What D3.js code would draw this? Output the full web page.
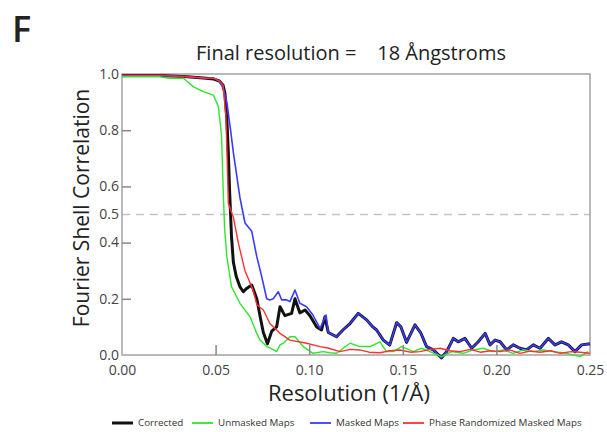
<!DOCTYPE html>
<html>
<head>
<meta charset="utf-8">
<script src="https://cdn.jsdelivr.net/npm/d3@7"></script>
<style>
  body { margin: 0; background: #fff; }
  text { font-family: "Open Sans", "Noto Sans", sans-serif; }
</style>
</head>
<body>
<svg id="chart" width="607" height="432"></svg>
<script>
// FSC curves: [resolution (1/A), correlation]
var corrected = [
  [0.000,0.995],[0.020,0.995],[0.035,0.990],[0.045,0.985],[0.049,0.982],[0.052,0.975],
  [0.054,0.960],[0.055,0.930],[0.056,0.840],[0.0568,0.720],[0.0575,0.580],[0.058,0.500],
  [0.0585,0.420],[0.0595,0.330],[0.061,0.280],[0.063,0.243],[0.0648,0.225],[0.0666,0.237],
  [0.0693,0.249],[0.072,0.200],[0.074,0.130],[0.0755,0.080],[0.0777,0.040],[0.080,0.085],
  [0.0826,0.100],[0.0844,0.172],[0.087,0.140],[0.0906,0.148],[0.0924,0.200],[0.095,0.150],
  [0.0978,0.160],[0.1004,0.140],[0.104,0.100],[0.1066,0.089],[0.1084,0.136],[0.1102,0.080],
  [0.1146,0.065],[0.118,0.089],[0.1218,0.112],[0.1262,0.148],[0.1307,0.125],[0.134,0.100],
  [0.136,0.089],[0.1396,0.053],[0.143,0.035],[0.1467,0.115],[0.149,0.100],[0.152,0.045],
  [0.1565,0.107],[0.1595,0.080],[0.1627,0.030],[0.1663,0.018],[0.1707,-0.010],[0.1734,0.012],
  [0.177,0.059],[0.1796,0.047],[0.1832,0.059],[0.1868,0.024],[0.1903,0.047],[0.194,0.077],
  [0.1966,0.036],[0.1993,0.053],[0.202,0.047],[0.2055,0.018],[0.209,0.036],[0.2126,0.024],
  [0.216,0.018],[0.2197,0.036],[0.2233,0.024],[0.2277,0.059],[0.2313,0.036],[0.2348,0.047],
  [0.2384,0.036],[0.242,0.012],[0.2455,0.036],[0.250,0.040]
];
var maskedHead = [
  [0.000,0.995],[0.020,0.995],[0.035,0.990],[0.045,0.985],[0.049,0.985],[0.052,0.975],
  [0.054,0.950],[0.056,0.900],[0.058,0.800],[0.0595,0.720],[0.063,0.560],[0.0648,0.500],
  [0.0657,0.470],[0.0693,0.440],[0.072,0.350],[0.0746,0.280],[0.0773,0.200],[0.079,0.196],
  [0.0808,0.200],[0.0835,0.225],[0.0853,0.196],[0.088,0.196],[0.0897,0.190],[0.0924,0.231],
  [0.095,0.184],[0.0986,0.172],[0.102,0.142],[0.1058,0.095],[0.109,0.142]
];
// past 0.11 the masked curve lies on the corrected one
var masked = maskedHead.concat(corrected.filter(function(d) { return d[0] > 0.11; }));
var unmasked = [
  [0.000,0.990],[0.020,0.990],[0.0256,0.985],[0.0328,0.985],[0.038,0.955],[0.0434,0.937],
  [0.0488,0.925],[0.0515,0.884],[0.0532,0.777],[0.054,0.600],[0.0548,0.450],[0.056,0.350],
  [0.0585,0.243],[0.063,0.184],[0.0684,0.136],[0.072,0.077],[0.0737,0.053],[0.0773,0.030],
  [0.079,0.025],[0.081,0.018],[0.0826,0.012],[0.0844,0.036],[0.0862,0.042],[0.0897,0.065],
  [0.0924,0.065],[0.0968,0.030],[0.102,0.006],[0.1075,0.012],[0.111,0.008],[0.1146,0.006],
  [0.1218,0.042],[0.127,0.030],[0.1325,0.030],[0.1378,0.047],[0.1413,0.012],[0.145,0.012],
  [0.1494,0.030],[0.1556,0.012],[0.160,0.024],[0.1645,0.012],[0.1707,-0.006],[0.176,0.012],
  [0.1823,0.006],[0.1876,0.018],[0.193,0.024],[0.1983,0.012],[0.2037,0.018],[0.209,0.006],
  [0.2144,0.018],[0.2197,0.012],[0.225,0.018],[0.2304,0.012],[0.2375,0.006],[0.2447,-0.006],
  [0.249,0.012]
];
var phaseRandom = [
  [0.000,0.995],[0.020,0.995],[0.035,0.990],[0.045,0.985],[0.049,0.985],[0.052,0.975],
  [0.054,0.960],[0.0555,0.850],[0.0565,0.620],[0.0568,0.540],[0.0595,0.490],[0.0622,0.397],
  [0.0657,0.300],[0.070,0.231],[0.072,0.180],[0.0755,0.160],[0.079,0.112],[0.0844,0.077],
  [0.0897,0.053],[0.0986,0.042],[0.1058,0.030],[0.110,0.025],[0.1164,0.012],[0.122,0.020],
  [0.127,0.018],[0.132,0.010],[0.1378,0.008],[0.143,0.015],[0.1485,0.018],[0.154,0.010],
  [0.159,0.012],[0.165,0.020],[0.170,0.024],[0.175,0.015],[0.1806,0.012],[0.186,0.020],
  [0.1913,0.010],[0.197,0.015],[0.202,0.012],[0.207,0.018],[0.2126,0.006],[0.218,0.014],
  [0.2233,0.010],[0.229,0.015],[0.234,0.006],[0.240,0.012],[0.2447,0.010],[0.250,0.006]
];

var xTicks = [0, 0.05, 0.10, 0.15, 0.20, 0.25];
var yTicks = [0, 0.2, 0.4, 0.5, 0.6, 0.8, 1.0];
var threshold = 0.5;

// drawing order matters: thick black under thin blue, red on top
var seriesList = [
  { name: "Corrected", data: corrected, color: "#111111", width: 3 },
  { name: "Masked Maps", data: masked, color: "#3a3aff", width: 1.6 },
  { name: "Unmasked Maps", data: unmasked, color: "#2ee62e", width: 1.4 },
  { name: "Phase Randomized Masked Maps", data: phaseRandom, color: "#ff3030", width: 1.4 }
];
var legendOrder = ["Corrected", "Unmasked Maps", "Masked Maps", "Phase Randomized Masked Maps"];

var svg = d3.select("#chart");
// plot box (not "top": that name is taken by window.top)
var pL = 122, pR = 590, pT = 74, pB = 355;

var x = d3.scaleLinear().domain([0, 0.25]).range([pL, pR]);
var y = d3.scaleLinear().domain([0, 1]).range([pB, pT]);

// panel letter and title
svg.append("text").attr("x", 12).attr("y", 42)
    .attr("font-size", 36).attr("font-weight", 600).attr("fill", "#222").text("F");
svg.append("text").attr("x", 351).attr("y", 60)
    .attr("text-anchor", "middle").attr("font-size", 20).attr("fill", "#222")
    .style("white-space", "pre")
    .text("Final resolution =    18 \u00c5ngstroms");

// 0.5 threshold
svg.append("line")
    .attr("x1", pL).attr("x2", pR)
    .attr("y1", y(threshold)).attr("y2", y(threshold))
    .attr("stroke", "#c4c4c4").attr("stroke-width", 1.3)
    .attr("stroke-dasharray", "8,6");

// frame
svg.append("rect")
    .attr("x", pL).attr("y", pT)
    .attr("width", pR - pL).attr("height", pB - pT)
    .attr("fill", "none").attr("stroke", "#a8a8a8").attr("stroke-width", 1.6);

// curves
var line = d3.line()
    .x(function(d) { return x(d[0]); })
    .y(function(d) { return y(d[1]); });

svg.selectAll("path.fsc")
    .data(seriesList)
    .enter()
    .append("path")
    .attr("class", "fsc")
    .attr("d", function(d) { return line(d.data); })
    .attr("fill", "none")
    .attr("stroke", function(d) { return d.color; })
    .attr("stroke-width", function(d) { return d.width; })
    .attr("stroke-linejoin", "round");

// axes: labels outside, short tick marks pointing into the plot
var yAxis = svg.append("g")
    .attr("transform", "translate(" + pL + ",0)")
    .call(d3.axisLeft(y).tickValues(yTicks).tickFormat(d3.format(".1f"))
        .tickSize(0).tickPadding(3));
var yMarks = svg.append("g")
    .attr("transform", "translate(" + pL + ",0)")
    .call(d3.axisLeft(y).tickValues([0.2, 0.4, 0.6, 0.8]).tickFormat("").tickSize(-9));

var xAxis = svg.append("g")
    .attr("transform", "translate(0," + pB + ")")
    .call(d3.axisBottom(x).tickValues(xTicks).tickFormat(d3.format(".2f"))
        .tickSize(0).tickPadding(11));
var xMarks = svg.append("g")
    .attr("transform", "translate(0," + pB + ")")
    .call(d3.axisBottom(x).tickValues([0.05, 0.10, 0.15, 0.20]).tickFormat("").tickSize(-10));

[yAxis, yMarks, xAxis, xMarks].forEach(function(g) {
    g.select(".domain").remove();
    g.selectAll("line").attr("stroke", "#888").attr("stroke-width", 1.5);
    g.selectAll("text").attr("font-size", 14).attr("fill", "#444")
        .attr("font-family", "'Open Sans', sans-serif");
});
yAxis.selectAll("text").attr("dy", "0.3em");
xAxis.selectAll("text").attr("dy", "0.62em");

// axis titles
svg.append("text")
    .attr("transform", "translate(89,208) rotate(-90)")
    .attr("text-anchor", "middle").attr("font-size", 21).attr("fill", "#222")
    .text("Fourier Shell Correlation");
svg.append("text")
    .attr("x", 349).attr("y", 401)
    .attr("text-anchor", "middle").attr("font-size", 22).attr("fill", "#222")
    .text("Resolution (1/\u00c5)");

// legend
var legendX = [112, 192, 310, 403];
var legend = svg.selectAll("g.legend")
    .data(legendOrder.map(function(n) {
        return seriesList.filter(function(s) { return s.name === n; })[0];
    }))
    .enter()
    .append("g")
    .attr("class", "legend")
    .attr("transform", function(d, i) { return "translate(" + legendX[i] + ",423)"; });
legend.append("line")
    .attr("x1", 0).attr("x2", 21).attr("y1", 0).attr("y2", 0)
    .attr("stroke", function(d) { return d.color; })
    .attr("stroke-width", function(d) { return d.name === "Corrected" ? 3 : 1.8; });
legend.append("text")
    .attr("x", 26).attr("dy", "0.35em")
    .attr("font-size", 9.8).attr("fill", "#333")
    .text(function(d) { return d.name; });
</script>
</body>
</html>
